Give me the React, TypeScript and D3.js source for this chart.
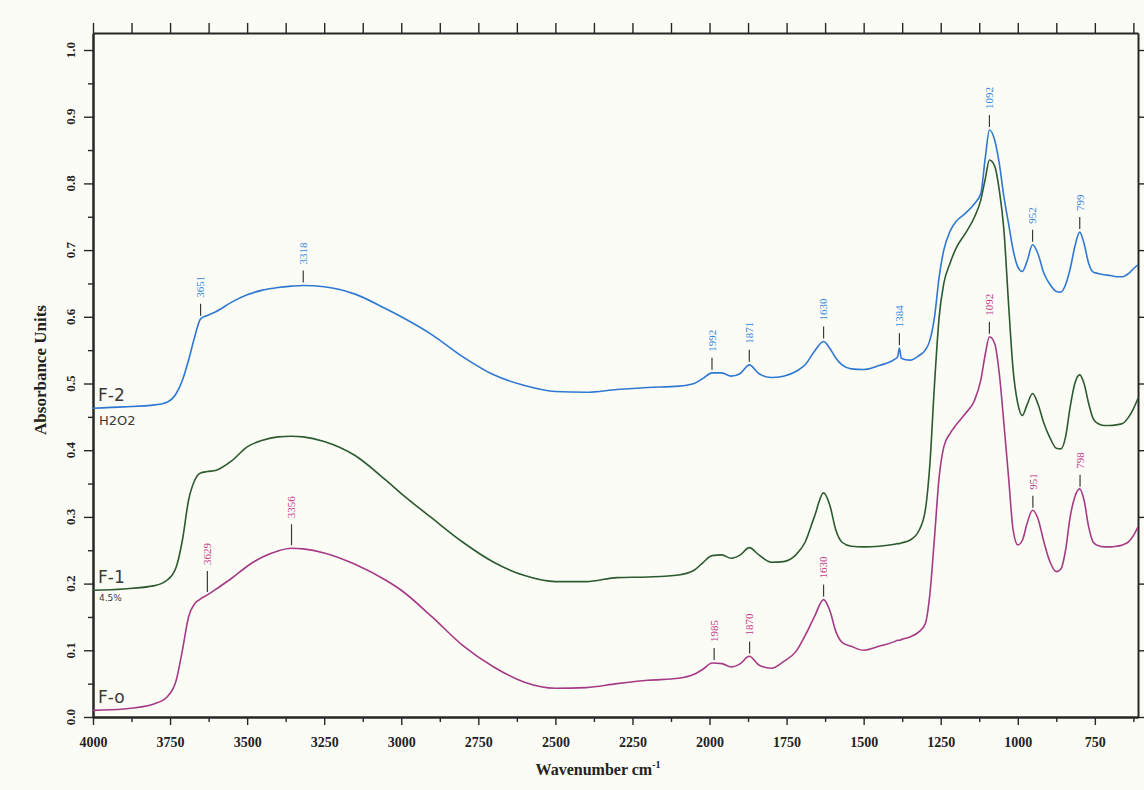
import { useEffect, useRef } from 'react';
import * as d3 from 'd3';

// shared wavenumber grid (cm-1)
const wavenumbers = [
  4000, 3900, 3800, 3760, 3730, 3710, 3690, 3670, 3651, 3629, 3600, 3550, 3500, 3450, 3400, 3356,
  3318, 3250, 3150, 3050, 3000, 2900, 2800, 2700, 2600, 2500, 2400, 2300, 2200, 2100, 2050, 2020,
  1992, 1960, 1930, 1900, 1871, 1840, 1800, 1760, 1720, 1690, 1660, 1630, 1610, 1590, 1570, 1540,
  1500, 1450, 1400, 1390, 1384, 1378, 1350, 1320, 1300, 1285, 1270, 1255, 1240, 1220, 1200, 1170,
  1140, 1120, 1105, 1092, 1075, 1060, 1045, 1030, 1015, 1000, 985, 970, 952, 935, 915, 895,
  875, 860, 845, 830, 815, 799, 785, 770, 755, 740, 720, 700, 680, 660, 640, 625, 610,
];

const f2Absorbance = [
  0.463, 0.465, 0.468, 0.472, 0.485, 0.505, 0.535, 0.57, 0.597, 0.602, 0.608, 0.622, 0.633, 0.64, 0.644, 0.646,
  0.647, 0.645, 0.634, 0.612, 0.6, 0.573, 0.54, 0.513, 0.497, 0.488, 0.487, 0.491, 0.494, 0.496, 0.5, 0.508,
  0.516, 0.516, 0.511, 0.515, 0.528, 0.515, 0.509, 0.511, 0.518, 0.528, 0.548, 0.563, 0.553, 0.538, 0.528, 0.522,
  0.521, 0.527, 0.536, 0.54, 0.553, 0.538, 0.535, 0.542, 0.55, 0.565, 0.6, 0.66, 0.7, 0.728, 0.743, 0.755,
  0.77, 0.785, 0.84, 0.88, 0.865, 0.83, 0.78, 0.74, 0.7, 0.675, 0.668, 0.683, 0.708, 0.695, 0.665, 0.648,
  0.638, 0.637, 0.648, 0.672, 0.705, 0.727, 0.71, 0.68, 0.667, 0.665, 0.663, 0.662, 0.66, 0.66, 0.665, 0.672, 0.678,
];

const f1Absorbance = [
  0.19, 0.192, 0.197, 0.205, 0.225, 0.265, 0.325, 0.355, 0.366, 0.368, 0.37, 0.384, 0.405, 0.415, 0.42, 0.421,
  0.42, 0.413, 0.392, 0.355, 0.335, 0.298, 0.262, 0.232, 0.212, 0.203, 0.203, 0.209, 0.21, 0.213, 0.22, 0.232,
  0.242, 0.243, 0.238, 0.243, 0.254, 0.243, 0.232, 0.233, 0.243, 0.262, 0.3, 0.336, 0.318, 0.28, 0.262, 0.256,
  0.255, 0.256, 0.259, 0.26, 0.26, 0.261, 0.265, 0.28, 0.31, 0.38, 0.5, 0.6, 0.65, 0.68, 0.703, 0.725,
  0.75, 0.775, 0.808, 0.835, 0.826, 0.79, 0.73, 0.62, 0.52, 0.47, 0.452, 0.468, 0.485, 0.47, 0.44, 0.418,
  0.403, 0.402, 0.42, 0.465, 0.5, 0.513, 0.5, 0.47, 0.447, 0.44, 0.437, 0.437, 0.438, 0.44, 0.45, 0.462, 0.478,
];

const f0Absorbance = [
  0.01, 0.012, 0.02, 0.03, 0.055, 0.1, 0.15, 0.17, 0.177, 0.183, 0.192, 0.208, 0.226, 0.24, 0.249, 0.253,
  0.252, 0.246, 0.229, 0.205, 0.19, 0.15, 0.107, 0.075, 0.052, 0.043, 0.044, 0.05, 0.055, 0.058, 0.064, 0.072,
  0.081, 0.08, 0.075, 0.08, 0.091, 0.078, 0.073, 0.083, 0.098, 0.122, 0.15, 0.176, 0.16, 0.128, 0.112, 0.106,
  0.1, 0.106, 0.113, 0.115, 0.115, 0.116, 0.12, 0.128, 0.14, 0.185, 0.27, 0.36, 0.405, 0.425, 0.438, 0.455,
  0.475, 0.505, 0.545, 0.57, 0.56, 0.515, 0.44, 0.36, 0.28, 0.258, 0.265, 0.29, 0.31, 0.298, 0.262, 0.232,
  0.218, 0.222, 0.25, 0.3, 0.33, 0.342, 0.325, 0.285, 0.262, 0.257, 0.255, 0.255, 0.256, 0.258, 0.263, 0.272, 0.285,
];

const sampleNames = ['F-2', 'F-1', 'F-o'];
const sampleNotes = ['H2O2', '4.5%', ''];

const f2Peaks = [3651, 3318, 1992, 1871, 1630, 1384, 1092, 952, 799];
const f0Peaks = [3629, 3356, 1985, 1870, 1630, 1092, 951, 798];

const xTicks = [4000, 3750, 3500, 3250, 3000, 2750, 2500, 2250, 2000, 1750, 1500, 1250, 1000, 750];
const xMinorTicks = [3875, 3625, 3375, 3125, 2875, 2625, 2375, 2125, 1875, 1625, 1375, 1125, 875, 625];
const yTicks = [0, 0.1, 0.2, 0.3, 0.4, 0.5, 0.6, 0.7, 0.8, 0.9, 1.0];
const yMinorTicks = [0.05, 0.15, 0.25, 0.35, 0.45, 0.55, 0.65, 0.75, 0.85, 0.95];

function App() {
  const ref = useRef<SVGSVGElement>(null);

  const svgWidth = 1144;
  const svgHeight = 790;

  useEffect(() => {
    const left = 93;
    const right = 1138;
    const top = 33;
    const bottom = 717;
    const serif = '"Liberation Serif", "DejaVu Serif", serif';
    const axisColor = '#262626';

    const svg = d3.select(ref.current);
    svg.selectAll('*').remove();

    // paper background
    svg.append('rect').attr('width', svgWidth).attr('height', svgHeight).attr('fill', '#fcfcf6');

    const x = d3.scaleLinear().domain([4000, 610]).range([left, right]);
    const y = d3.scaleLinear().domain([0, 1.0255]).range([bottom, top]);

    // axes
    const styleAxis = (g: d3.Selection<SVGGElement, unknown, null, undefined>) => {
      g.selectAll('path').attr('stroke', axisColor).attr('stroke-width', 2);
      g.selectAll('line').attr('stroke', axisColor).attr('stroke-width', 1.4);
    };

    const bottomAxis = svg
      .append('g')
      .attr('transform', `translate(0, ${bottom})`)
      .call(d3.axisBottom(x).tickValues(xTicks).tickSize(8).tickSizeOuter(0).tickPadding(12).tickFormat(d3.format('d')));
    styleAxis(bottomAxis);
    bottomAxis
      .selectAll('text')
      .attr('font-family', serif)
      .attr('font-weight', 'bold')
      .attr('font-size', 14)
      .attr('fill', '#222');

    styleAxis(
      svg
        .append('g')
        .attr('transform', `translate(0, ${bottom})`)
        .call(d3.axisBottom(x).tickValues(xMinorTicks).tickSize(5).tickSizeOuter(0).tickFormat(() => ''))
    );

    styleAxis(
      svg
        .append('g')
        .attr('transform', `translate(0, ${top})`)
        .call(d3.axisTop(x).tickValues([...xTicks, ...xMinorTicks]).tickSize(10).tickSizeOuter(0).tickFormat(() => ''))
    );

    styleAxis(
      svg
        .append('g')
        .attr('transform', `translate(${left}, 0)`)
        .call(d3.axisLeft(y).tickValues(yTicks).tickSize(9).tickSizeOuter(0).tickFormat(() => ''))
    );
    styleAxis(
      svg
        .append('g')
        .attr('transform', `translate(${left}, 0)`)
        .call(d3.axisLeft(y).tickValues(yMinorTicks).tickSize(5).tickSizeOuter(0).tickFormat(() => ''))
    );
    styleAxis(
      svg
        .append('g')
        .attr('transform', `translate(${right}, 0)`)
        .call(d3.axisRight(y).tickValues(yTicks).tickSize(7).tickSizeOuter(0).tickFormat(() => ''))
    );

    // rotated y tick labels
    svg
      .append('g')
      .selectAll()
      .data(yTicks)
      .join('text')
      .attr('transform', (d) => `translate(70, ${y(d)}) rotate(-90)`)
      .attr('text-anchor', 'middle')
      .attr('dy', '0.35em')
      .attr('font-family', serif)
      .attr('font-weight', 'bold')
      .attr('font-size', 13)
      .attr('fill', '#222')
      .text((d) => d3.format('.1f')(d));

    // axis titles
    svg
      .append('text')
      .attr('transform', `translate(46, 370) rotate(-90)`)
      .attr('text-anchor', 'middle')
      .attr('font-family', serif)
      .attr('font-weight', 'bold')
      .attr('font-size', 17)
      .attr('fill', '#222')
      .text('Absorbance Units');

    const xTitle = svg
      .append('text')
      .attr('x', 598)
      .attr('y', 775)
      .attr('text-anchor', 'middle')
      .attr('font-family', serif)
      .attr('font-weight', 'bold')
      .attr('font-size', 16)
      .attr('fill', '#222');
    xTitle.append('tspan').text('Wavenumber cm');
    xTitle.append('tspan').attr('font-size', 10).attr('dy', -7).text('-1');

    // spectra
    svg
      .append('clipPath')
      .attr('id', 'plot-clip')
      .append('rect')
      .attr('x', left)
      .attr('y', top)
      .attr('width', right - left)
      .attr('height', bottom - top);

    const series = [
      { values: f2Absorbance, color: '#2f78d2', peaks: f2Peaks, labelColor: '#2f86e0' },
      { values: f1Absorbance, color: '#2c5a31', peaks: [] as number[], labelColor: '#2c5a31' },
      { values: f0Absorbance, color: '#a53a86', peaks: f0Peaks, labelColor: '#c4368a' },
    ];

    const line = d3
      .line<number>()
      .x((_, i) => x(wavenumbers[i]))
      .y((d) => y(d))
      .curve(d3.curveMonotoneX);

    const plot = svg.append('g').attr('clip-path', 'url(#plot-clip)');

    series.forEach((s, si) => {
      plot
        .append('path')
        .attr('d', line(s.values))
        .attr('fill', 'none')
        .attr('stroke', s.color)
        .attr('stroke-width', 1.6);

      // peak markers: the O-H band labels sit on longer stems
      const at = d3.scaleLinear().domain(wavenumbers).range(s.values);
      const stem = (d: number) => (d > 3000 && si === 2 ? 24 : 15);
      const marks = svg.append('g');
      marks
        .selectAll()
        .data(s.peaks)
        .join('line')
        .attr('x1', (d) => x(d))
        .attr('x2', (d) => x(d))
        .attr('y1', (d) => y(at(d)) - 3)
        .attr('y2', (d) => y(at(d)) - stem(d))
        .attr('stroke', '#3a3a3a')
        .attr('stroke-width', 1.2);
      marks
        .selectAll()
        .data(s.peaks)
        .join('text')
        .attr('transform', (d) => `translate(${x(d)}, ${y(at(d)) - stem(d) - 6}) rotate(-90)`)
        .attr('dy', '0.35em')
        .attr('font-family', serif)
        .attr('font-size', 11)
        .attr('fill', s.labelColor)
        .text((d) => String(d));

      // handwritten sample names
      const y0 = y(s.values[0]);
      svg
        .append('text')
        .attr('x', left + 5)
        .attr('y', y0 - 7)
        .attr('font-family', '"DejaVu Sans", sans-serif')
        .attr('font-size', 17)
        .attr('fill', '#3a3a3a')
        .text(sampleNames[si]);
      if (sampleNotes[si]) {
        svg
          .append('text')
          .attr('x', left + 6)
          .attr('y', y0 + (si === 0 ? 17 : 11))
          .attr('font-family', '"DejaVu Sans", sans-serif')
          .attr('font-size', si === 0 ? 13 : 9)
          .attr('fill', '#3a3a3a')
          .text(sampleNotes[si]);
      }
    });
  }, []);

  return (
    <svg
      ref={ref}
      width={svgWidth}
      height={svgHeight}
      style={{ position: 'absolute', left: 0, top: 0 }}
    ></svg>
  );
}

export default App;
